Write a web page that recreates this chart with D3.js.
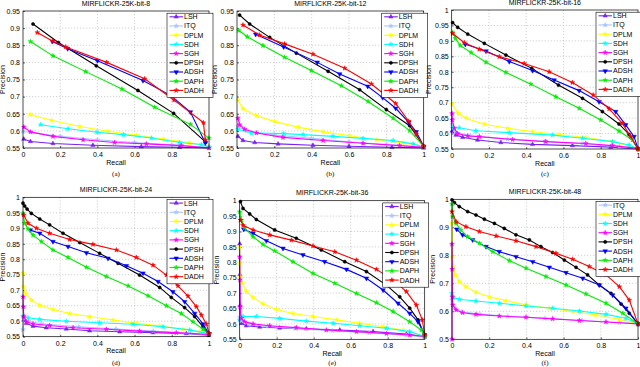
<!DOCTYPE html>
<html><head><meta charset="utf-8">
<script src="https://cdn.jsdelivr.net/npm/d3@7"></script>
<style>body{margin:0;background:#fff}svg{display:block;font-family:"Liberation Sans",Arial,sans-serif}</style>
</head><body><svg id="c" width="640" height="367"></svg>
<script>
// ---------- data ----------
const panelTitles = ["MIRFLICKR-25K-bit-8","MIRFLICKR-25K-bit-12","MIRFLICKR-25K-bit-16","MIRFLICKR-25K-bit-24","MIRFLICKR-25K-bit-36","MIRFLICKR-25K-bit-48"];
const panelCaptions = ["(a)","(b)","(c)","(d)","(e)","(f)"];
const xTicks = [0,0.2,0.4,0.6,0.8,1];
const yTicksAB = [0.55,0.6,0.65,0.7,0.75,0.8,0.85,0.9,0.95];
const yTicksCDE = [0.55,0.6,0.65,0.7,0.75,0.8,0.85,0.9,0.95,1];
const yTicksF = [0.5,0.6,0.7,0.8,0.9,1];
const yDomains = [[0.55,0.95],[0.55,0.95],[0.55,1],[0.55,1],[0.55,1],[0.5,1]];
const methods = ["LSH","ITQ","DPLM","SDH","SGH","DPSH","ADSH","DAPH","DADH"];

// each method: one list of [recall, precision] per panel (a..f)
const LSH = [
 [[0.004,0.576],[0.04,0.569],[0.161,0.563],[0.376,0.558],[0.636,0.554],[0.842,0.552],[1,0.55]],
 [[0.005,0.584],[0.032,0.572],[0.095,0.566],[0.22,0.562],[0.407,0.558],[0.6,0.555],[0.83,0.552],[1,0.55]],
 [[0.002,0.608],[0.023,0.595],[0.059,0.588],[0.139,0.579],[0.264,0.571],[0.434,0.565],[0.648,0.561],[0.854,0.556],[1,0.55]],
 [[0.004,0.604],[0.018,0.593],[0.054,0.584],[0.125,0.579],[0.233,0.575],[0.358,0.569],[0.52,0.566],[0.699,0.563],[0.878,0.56],[1,0.555]],
 [[0,0.86],[0.001,0.76],[0.002,0.66],[0.004,0.613],[0.009,0.602],[0.036,0.594],[0.108,0.59],[0.216,0.587],[0.36,0.584],[0.541,0.58],[0.721,0.575],[0.901,0.567],[1,0.559]],
 null
];
const ITQ = [
 [[0,0.598],[0.2,0.584],[0.4,0.574],[0.6,0.566],[0.8,0.559],[1,0.552]],
 [[0.005,0.613],[0.05,0.6],[0.2,0.588],[0.4,0.578],[0.6,0.568],[0.8,0.56],[1,0.552]],
 [[0.002,0.63],[0.02,0.605],[0.1,0.593],[0.3,0.582],[0.5,0.574],[0.7,0.567],[0.9,0.558],[1,0.552]],
 [[0,0.573],[0.003,0.61],[0.03,0.6],[0.1,0.592],[0.3,0.582],[0.5,0.575],[0.7,0.568],[0.9,0.56],[1,0.557]],
 [[0,0.622],[0.01,0.61],[0.05,0.6],[0.15,0.592],[0.3,0.585],[0.5,0.578],[0.7,0.571],[0.9,0.563],[1,0.558]],
 [[0,0.64],[0.01,0.612],[0.05,0.598],[0.15,0.59],[0.3,0.582],[0.5,0.575],[0.7,0.567],[0.9,0.56],[1,0.555]]
];
const DPLM = [
 [[0.04,0.647],[0.152,0.631],[0.305,0.613],[0.457,0.599],[0.609,0.587],[0.756,0.576],[0.896,0.565],[1,0.555]],
 [[0.005,0.69],[0.032,0.665],[0.104,0.644],[0.202,0.627],[0.327,0.611],[0.461,0.597],[0.604,0.586],[0.746,0.574],[0.889,0.565],[1,0.555]],
 [[0.002,0.696],[0.036,0.665],[0.08,0.649],[0.175,0.63],[0.3,0.617],[0.434,0.606],[0.577,0.597],[0.72,0.587],[0.863,0.574],[1,0.55]],
 [[0,0.755],[0.002,0.712],[0.014,0.69],[0.045,0.668],[0.09,0.652],[0.161,0.638],[0.251,0.625],[0.358,0.615],[0.484,0.604],[0.609,0.593],[0.735,0.585],[0.86,0.574],[0.95,0.566],[1,0.559]],
 [[0,0.851],[0.001,0.797],[0.003,0.753],[0.014,0.732],[0.036,0.705],[0.072,0.686],[0.126,0.665],[0.198,0.647],[0.288,0.634],[0.396,0.624],[0.523,0.613],[0.649,0.602],[0.775,0.591],[0.883,0.58],[1,0.559]],
 [[0,0.914],[0.002,0.795],[0.007,0.76],[0.018,0.73],[0.039,0.706],[0.075,0.688],[0.129,0.668],[0.201,0.652],[0.29,0.638],[0.398,0.623],[0.523,0.611],[0.649,0.599],[0.774,0.587],[0.9,0.571],[1,0.555]]
];
const SDH = [
 [[0.095,0.618],[0.242,0.606],[0.398,0.596],[0.541,0.589],[0.69,0.579],[0.842,0.566],[0.959,0.56],[1,0.553]],
 [[0.005,0.605],[0.077,0.594],[0.25,0.592],[0.354,0.589],[0.514,0.584],[0.675,0.578],[0.836,0.572],[0.943,0.562],[1,0.553]],
 [[0.005,0.617],[0.04,0.619],[0.13,0.609],[0.309,0.603],[0.541,0.595],[0.702,0.585],[0.863,0.574],[0.952,0.563],[1,0.55]],
 [[0,0.615],[0.027,0.611],[0.09,0.606],[0.233,0.6],[0.412,0.595],[0.591,0.59],[0.753,0.582],[0.896,0.572],[1,0.559]],
 [[0,0.613],[0.018,0.624],[0.09,0.624],[0.216,0.618],[0.36,0.609],[0.505,0.602],[0.649,0.594],[0.793,0.586],[0.919,0.575],[1,0.559]],
 [[0,0.664],[0.007,0.649],[0.039,0.643],[0.129,0.637],[0.254,0.629],[0.398,0.619],[0.541,0.611],[0.685,0.601],[0.828,0.589],[0.935,0.575],[1,0.555]]
];
const SGH = [
 [[0.005,0.611],[0.04,0.597],[0.161,0.584],[0.323,0.574],[0.493,0.566],[0.663,0.562],[0.851,0.557],[1,0.55]],
 [[0.005,0.637],[0.014,0.618],[0.041,0.605],[0.104,0.594],[0.246,0.581],[0.461,0.572],[0.675,0.564],[0.871,0.557],[1,0.552]],
 [[0.002,0.665],[0.003,0.644],[0.014,0.617],[0.032,0.6],[0.086,0.592],[0.148,0.59],[0.327,0.581],[0.505,0.574],[0.72,0.568],[0.863,0.561],[1,0.552]],
 [[0,0.679],[0.001,0.647],[0.005,0.615],[0.018,0.598],[0.054,0.591],[0.143,0.586],[0.269,0.579],[0.448,0.574],[0.627,0.568],[0.824,0.563],[1,0.557]],
 [[0,0.818],[0.001,0.743],[0.002,0.656],[0.009,0.618],[0.027,0.607],[0.072,0.6],[0.162,0.594],[0.306,0.588],[0.468,0.58],[0.631,0.575],[0.793,0.569],[0.919,0.564],[1,0.559]],
 [[0,0.5],[0,0.84],[0.001,0.75],[0.002,0.652],[0.004,0.623],[0.022,0.605],[0.057,0.595],[0.129,0.589],[0.254,0.583],[0.398,0.579],[0.541,0.573],[0.685,0.567],[0.828,0.562],[1,0.555]]
];
const DPSH = [
 [[0.054,0.912],[0.19,0.858],[0.394,0.79],[0.618,0.718],[0.81,0.651],[0.982,0.567]],
 [[0.014,0.938],[0.068,0.912],[0.175,0.873],[0.318,0.827],[0.488,0.774],[0.657,0.72],[0.8,0.662],[0.925,0.615],[1,0.555]],
 [[0.005,0.959],[0.032,0.944],[0.086,0.922],[0.175,0.892],[0.291,0.854],[0.43,0.811],[0.573,0.757],[0.702,0.714],[0.809,0.671],[0.898,0.631],[0.952,0.597],[1,0.55]],
 [[0,0.981],[0.009,0.972],[0.022,0.962],[0.045,0.948],[0.09,0.93],[0.143,0.911],[0.215,0.884],[0.305,0.854],[0.412,0.819],[0.511,0.787],[0.627,0.749],[0.735,0.709],[0.797,0.677],[0.869,0.644],[0.923,0.615],[0.968,0.582],[1,0.555]],
 [[0.004,0.997],[0.018,0.975],[0.054,0.957],[0.09,0.939],[0.189,0.905],[0.306,0.878],[0.441,0.84],[0.568,0.802],[0.685,0.77],[0.793,0.726],[0.865,0.688],[0.919,0.651],[0.964,0.613],[1,0.564]],
 [[0,0.998],[0.013,0.988],[0.039,0.974],[0.084,0.956],[0.129,0.944],[0.174,0.929],[0.228,0.914],[0.281,0.896],[0.344,0.873],[0.416,0.855],[0.478,0.831],[0.541,0.81],[0.604,0.783],[0.667,0.757],[0.729,0.73],[0.792,0.694],[0.855,0.664],[0.909,0.626],[0.953,0.593],[1,0.555]]
];
const ADSH = [
 [[0.158,0.861],[0.24,0.84],[0.4,0.805],[0.645,0.747],[0.795,0.703],[0.9,0.655],[0.98,0.565]],
 [[0.1,0.882],[0.25,0.845],[0.43,0.8],[0.55,0.766],[0.7,0.73],[0.78,0.697],[0.85,0.666],[0.92,0.625],[0.96,0.597],[1,0.555]],
 [[0.073,0.889],[0.184,0.867],[0.309,0.833],[0.434,0.804],[0.55,0.773],[0.684,0.739],[0.791,0.703],[0.88,0.671],[0.934,0.628],[0.979,0.59],[1,0.55]],
 [[0.039,0.894],[0.09,0.884],[0.161,0.857],[0.242,0.841],[0.341,0.821],[0.457,0.803],[0.556,0.779],[0.645,0.755],[0.726,0.728],[0.806,0.695],[0.869,0.663],[0.923,0.625],[0.968,0.591],[1,0.559]],
 [[0.022,0.907],[0.072,0.894],[0.144,0.87],[0.234,0.845],[0.342,0.824],[0.459,0.802],[0.577,0.777],[0.685,0.748],[0.775,0.71],[0.856,0.667],[0.919,0.634],[0.964,0.607],[1,0.564]],
 [[0.025,0.893],[0.057,0.873],[0.111,0.855],[0.183,0.831],[0.254,0.813],[0.344,0.795],[0.434,0.777],[0.523,0.757],[0.613,0.738],[0.703,0.718],[0.792,0.694],[0.864,0.658],[0.935,0.611],[1,0.555]]
];
const DAPH = [
 [[0.04,0.861],[0.161,0.819],[0.337,0.773],[0.532,0.722],[0.708,0.669],[0.9,0.619],[1,0.579]],
 [[0.01,0.893],[0.055,0.875],[0.139,0.849],[0.255,0.815],[0.398,0.776],[0.559,0.732],[0.702,0.686],[0.836,0.637],[0.925,0.601],[1,0.555]],
 [[0.005,0.927],[0.02,0.908],[0.046,0.885],[0.104,0.862],[0.184,0.831],[0.291,0.798],[0.425,0.76],[0.559,0.719],[0.684,0.682],[0.8,0.644],[0.898,0.608],[0.97,0.579],[1,0.55]],
 [[0,0.948],[0.009,0.916],[0.027,0.898],[0.054,0.878],[0.099,0.857],[0.161,0.83],[0.242,0.806],[0.341,0.774],[0.448,0.744],[0.565,0.714],[0.672,0.682],[0.771,0.65],[0.851,0.625],[0.914,0.598],[0.968,0.574],[1,0.559]],
 [[0,0.964],[0.009,0.937],[0.027,0.912],[0.072,0.883],[0.126,0.858],[0.189,0.837],[0.288,0.802],[0.396,0.764],[0.514,0.732],[0.631,0.699],[0.739,0.669],[0.829,0.64],[0.919,0.607],[0.982,0.58],[1,0.559]],
 [[0,0.983],[0.004,0.938],[0.022,0.914],[0.048,0.89],[0.084,0.867],[0.147,0.843],[0.219,0.813],[0.308,0.781],[0.398,0.754],[0.505,0.724],[0.613,0.694],[0.72,0.662],[0.828,0.629],[0.918,0.593],[1,0.555]]
];
const DADH = [
 [[0.077,0.887],[0.16,0.862],[0.23,0.845],[0.45,0.8],[0.654,0.752],[0.812,0.69],[0.97,0.624],[0.98,0.574]],
 [[0.032,0.909],[0.12,0.88],[0.255,0.854],[0.407,0.824],[0.577,0.783],[0.72,0.737],[0.85,0.68],[0.92,0.628],[0.96,0.59],[1,0.555]],
 [[0.005,0.924],[0.068,0.894],[0.148,0.873],[0.255,0.849],[0.389,0.827],[0.523,0.8],[0.648,0.765],[0.759,0.725],[0.845,0.68],[0.916,0.633],[0.961,0.59],[1,0.55]],
 [[0.004,0.943],[0.027,0.916],[0.072,0.9],[0.143,0.884],[0.251,0.864],[0.376,0.848],[0.502,0.83],[0.609,0.806],[0.699,0.781],[0.771,0.749],[0.833,0.714],[0.887,0.681],[0.932,0.647],[0.959,0.62],[0.986,0.591],[1,0.561]],
 [[0.004,0.937],[0.018,0.92],[0.072,0.905],[0.162,0.889],[0.279,0.872],[0.396,0.853],[0.514,0.834],[0.631,0.807],[0.739,0.777],[0.829,0.743],[0.901,0.705],[0.955,0.661],[0.987,0.613],[1,0.564]],
 [[0,0.956],[0.022,0.92],[0.075,0.902],[0.147,0.885],[0.237,0.869],[0.344,0.852],[0.452,0.831],[0.559,0.807],[0.649,0.786],[0.738,0.76],[0.828,0.73],[0.9,0.688],[0.953,0.64],[1,0.555]]
];
const seriesData = [LSH, ITQ, DPLM, SDH, SGH, DPSH, ADSH, DAPH, DADH];

// ---------- styles / layout ----------
const colors = ["#7a22ee","#a9c4ff","#ffff00","#00ffff","#ff00ff","#000000","#0000ff","#00ee00","#ff0000"];
const markerTypes = ["tri","star","star","star","star","circle","triDown","star","star"];
const yTickSets = [yTicksAB, yTicksAB, yTicksCDE, yTicksCDE, yTicksCDE, yTicksF];
const layout = [
 {x0:23,x1:209,y0:11,y1:148,ylab:18.5,cap:175.5},
 {x0:237,x1:423.7,y0:11,y1:148,ylab:20,cap:175.5},
 {x0:451.7,x1:638,y0:10,y1:149,ylab:21,cap:175.5},
 {x0:23,x1:209,y0:197.3,y1:336.7,ylab:18.5,cap:364.5},
 {x0:239.7,x1:424.7,y0:200.7,y1:339.3,ylab:21,cap:364.5},
 {x0:452,x1:638,y0:199.3,y1:339.3,ylab:17,cap:364.5}
];

const svg = d3.select("#c");
svg.append("rect").attr("width",640).attr("height",367).attr("fill","#fff");

function marker(g, type, color, x, y){
  let sym, size, rot = 0;
  if(type==="tri"){sym=d3.symbolTriangle; size=8;}
  else if(type==="triDown"){sym=d3.symbolTriangle; size=9; rot=180;}
  else if(type==="circle"){sym=d3.symbolCircle; size=8;}
  else {sym=d3.symbolStar; size=7;}
  g.append("path").attr("d", d3.symbol().type(sym).size(size)())
   .attr("transform",`translate(${x},${y}) rotate(${rot})`)
   .attr("fill",color).attr("stroke",color).attr("stroke-width",0.5);
}

layout.forEach((L, pi) => {
  const x = d3.scaleLinear().domain([0,1]).range([L.x0, L.x1]);
  const y = d3.scaleLinear().domain(yDomains[pi]).range([L.y1, L.y0]);
  const g = svg.append("g");
  const yt = yTickSets[pi];
  // grid
  g.selectAll(".gx").data(xTicks.slice(1,-1)).enter().append("line")
    .attr("x1",d=>x(d)).attr("x2",d=>x(d)).attr("y1",L.y0).attr("y2",L.y1)
    .attr("stroke","#b0b0b0").attr("stroke-width",0.6).attr("stroke-dasharray","1.2,1.8");
  g.selectAll(".gy").data(yt.slice(1,-1)).enter().append("line")
    .attr("y1",d=>y(d)).attr("y2",d=>y(d)).attr("x1",L.x0).attr("x2",L.x1)
    .attr("stroke","#b0b0b0").attr("stroke-width",0.6).attr("stroke-dasharray","1.2,1.8");
  // axes
  const xa = g.append("g").attr("transform",`translate(0,${L.y1})`)
    .call(d3.axisBottom(x).tickValues(xTicks).tickFormat(d=>String(d)).tickSizeInner(-2).tickSizeOuter(0).tickPadding(4));
  const ya = g.append("g").attr("transform",`translate(${L.x0},0)`)
    .call(d3.axisLeft(y).tickValues(yt).tickFormat(d=>String(d)).tickSizeInner(-2).tickSizeOuter(0).tickPadding(3));
  [xa,ya].forEach(a=>{
    a.select(".domain").remove();
    a.selectAll("line").attr("stroke","#000").attr("stroke-width",0.6);
    a.selectAll("text").attr("font-size",7).attr("fill","#000").attr("font-family","Liberation Sans, Arial, sans-serif");
  });
  // series
  const line = d3.line().x(d=>x(d[0])).y(d=>y(d[1]));
  seriesData.forEach((s, si) => {
    const pts = s[pi];
    if(!pts) return;
    g.append("path").datum(pts).attr("d",line).attr("fill","none")
      .attr("stroke",colors[si]).attr("stroke-width",1.1);
    pts.forEach(p => marker(g, markerTypes[si], colors[si], x(p[0]), y(p[1])));
  });
  // frame
  g.append("rect").attr("x",L.x0).attr("y",L.y0).attr("width",L.x1-L.x0).attr("height",L.y1-L.y0)
    .attr("fill","none").attr("stroke","#000").attr("stroke-width",0.7);
  // labels
  g.append("text").attr("x",(L.x0+L.x1)/2).attr("y",L.y0-5.5).attr("text-anchor","middle")
    .attr("font-size",7).text(panelTitles[pi]);
  g.append("text").attr("x",(L.x0+L.x1)/2).attr("y",L.y1+16.5).attr("text-anchor","middle")
    .attr("font-size",7).text("Recall");
  g.append("text").attr("x",(L.x0+L.x1)/2).attr("y",L.cap).attr("text-anchor","middle")
    .attr("font-size",7).attr("font-family","Liberation Serif, Times New Roman, serif").text(panelCaptions[pi]);
  g.append("text").attr("transform",`translate(${L.x0-L.ylab},${(L.y0+L.y1)/2}) rotate(-90)`)
    .attr("text-anchor","middle").attr("font-size",7).text("Precision");
  // legend
  const items = methods.map((m,i)=>i).filter(i => seriesData[i][pi]);
  const rowH = 9.2;
  const lx = L.x1 - 42, ly = L.y0 + 2.2;
  const lg = g.append("g");
  lg.append("rect").attr("x",lx).attr("y",ly).attr("width",46).attr("height",items.length*rowH+1.5)
    .attr("fill","#fff").attr("stroke","#000").attr("stroke-width",0.6);
  items.forEach((si, k) => {
    const ry = ly + 3.6 + k*rowH;
    lg.append("line").attr("x1",lx+2.5).attr("x2",lx+16).attr("y1",ry).attr("y2",ry)
      .attr("stroke",colors[si]).attr("stroke-width",1.1);
    marker(lg, markerTypes[si], colors[si], lx+9.2, ry);
    lg.append("text").attr("x",lx+17).attr("y",ry).attr("dy","0.35em")
      .attr("font-size",7).text(methods[si]);
  });
});
</script></body></html>
